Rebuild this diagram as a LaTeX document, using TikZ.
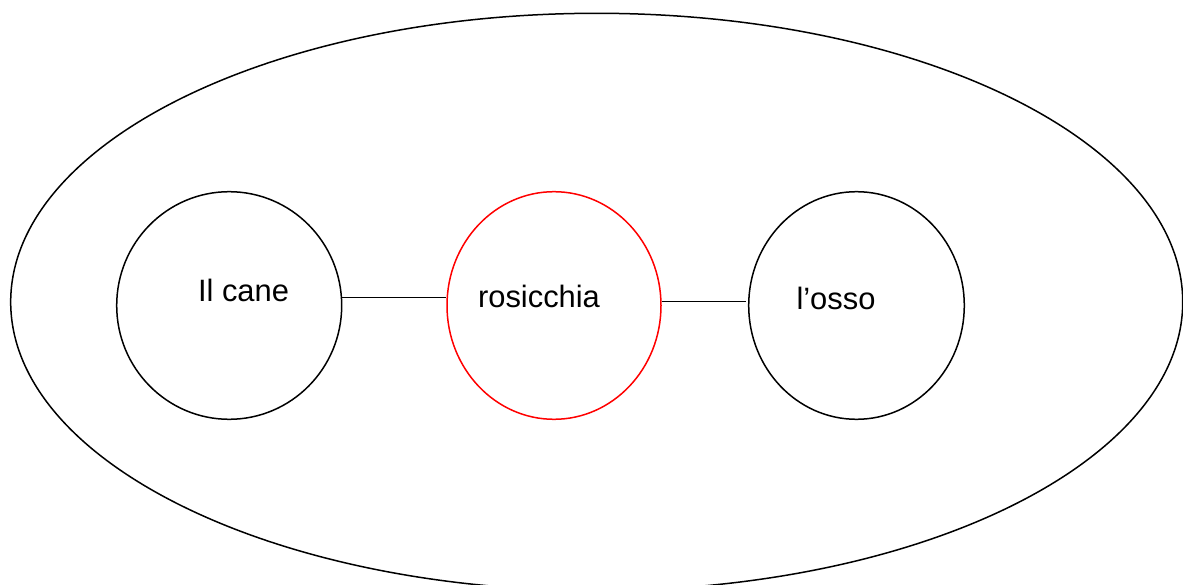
\documentclass[tikz,border=0pt]{standalone}
\usepackage{fontspec}
\setmainfont{Liberation Sans}
\usetikzlibrary{shapes.geometric}
\begin{document}
\begin{tikzpicture}[x=1bp,y=-1bp,
  ring/.style={ellipse,draw=black,line width=1.5bp,inner sep=0pt},
  lbl/.style={inner sep=0pt,anchor=base,font=\fontsize{31}{37}\selectfont},
  link/.style={draw=black,line width=1.5bp}]
\useasboundingbox (0,0) rectangle (1183,585);
\clip (0,0) rectangle (1183,585);
\fill[white] (0,0) rectangle (1183,585);
\node[ring,minimum width=1172bp,minimum height=577.4bp] (outer) at (596.7,302) {};
\node[ring,minimum width=225bp,minimum height=227.6bp] (cane) at (229.2,305.5) {};
\node[ring,draw=red,minimum width=214bp,minimum height=227.6bp] (ros) at (554,305.5) {};
\node[ring,minimum width=215.6bp,minimum height=227.6bp] (osso) at (856.5,305.5) {};
\node[lbl] (tcane) at (243.5,301.7) {Il cane};
\node[lbl] (tros) at (539,307.7) {rosicchia};
\node[lbl] (tosso) at (836,310) {l’osso};
\draw[link] (cane.4) -- (cane.4 -| ros.west);
\draw[link,shorten >=2bp] (ros.2.6) -- (ros.2.6 -| osso.west);
\end{tikzpicture}
\end{document}
